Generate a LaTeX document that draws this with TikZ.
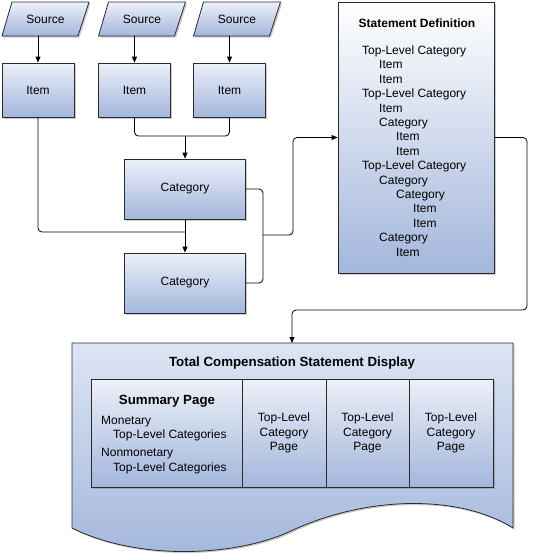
\documentclass[tikz,border=0pt]{standalone}
\usepackage{fontspec}
\setmainfont{Liberation Sans}
\usetikzlibrary{arrows.meta,shadows}
\definecolor{topc}{HTML}{ECF0F8}
\definecolor{botc}{HTML}{A3B6DC}
\definecolor{disptop}{HTML}{DCE5F3}
\definecolor{linec}{HTML}{2A2A2A}
\tikzset{
  base/.style={font=\fontsize{12}{14.4}\selectfont, text=black},
  shd/.style={drop shadow={shadow xshift=1.5pt,shadow yshift=-1.5pt,opacity=0.35,fill=black!60}},
  gbox/.style={base, draw=linec, line width=0.8pt, top color=topc, bottom color=botc, shd},
  itembox/.style={gbox, minimum width=72pt, minimum height=54pt},
  catbox/.style={gbox, minimum width=121pt, minimum height=60pt},
  cell/.style={gbox, minimum height=108pt},
  conn/.style={draw=black, line width=0.8pt, rounded corners=4pt},
  arr/.style={conn, -{Triangle[length=6pt,width=5pt]}},
  txt/.style={base, inner sep=0pt, anchor=base west},
  btitle/.style={base, font=\fontsize{13.3}{16}\selectfont\bfseries},
}
\begin{document}
\begin{tikzpicture}[x=1pt,y=-1pt]
\useasboundingbox (0,0) rectangle (536,558);

% Sources
\foreach \c/\n in {38/1,134.5/2,229.5/3}{
  \path[draw=linec, line width=0.8pt, top color=topc, bottom color=botc, shd]
    (\c-36,36) -- (\c+40,36) -- (\c+51,2) -- (\c-26,2) -- cycle;
  \node[base] (src\n) at (\c+7.5,19) {Source};
  \coordinate (srcb\n) at (\c,36);
}

% Items
\node[itembox] (item1) at (38,90) {Item};
\node[itembox] (item2) at (134.5,90) {Item};
\node[itembox] (item3) at (229.5,90) {Item};

% Categories
\node[catbox] (cat1) at (185,189) {Category};
\node[catbox] (cat2) at (185,283) {Category};

% Statement definition
\node[draw=linec, line width=0.8pt, top color=white, bottom color=botc, shd,
      minimum width=156pt, minimum height=271pt] (sd) at (416,137.5) {};
\node[base, font=\fontsize{12}{14.4}\selectfont\bfseries] (sdt) at (417,23) {Statement Definition};
\foreach \i/\l/\t in {1/0/Top-Level Category,2/1/Item,3/1/Item,4/0/Top-Level Category,
  5/1/Item,6/1/Category,7/2/Item,8/2/Item,9/0/Top-Level Category,10/1/Category,
  11/2/Category,12/3/Item,13/3/Item,14/1/Category,15/2/Item}{
  \node[txt] (sd\i) at ({362+17*\l},{54.5+14.4*(\i-1)}) {\t};
}

% Display document shape
\path[draw=linec, line width=0.8pt, top color=disptop, bottom color=botc, shd]
  (72,343) -- (513,343) -- (513,528)
  .. controls (460,495) and (370,495) .. (293,530)
  .. controls (240,556) and (140,562) .. (72,528) -- cycle;
\node[btitle] (disp) at (292,363) {Total Compensation Statement Display};
\coordinate (dtop) at (292,343);

% Table cells
\node[cell, minimum width=151pt] (sum) at (166.5,433) {};
\node[cell, minimum width=84pt] (pg1c) at (284,433) {};
\node[cell, minimum width=83pt] (pg2c) at (367.5,433) {};
\node[cell, minimum width=84pt] (pg3c) at (451,433) {};

\node[btitle] (sumt) at (167,401) {Summary Page};
\node[txt] (mon) at (101,424.5) {Monetary};
\node[txt] (mont) at (113,438.5) {Top-Level Categories};
\node[txt] (nmon) at (101,456.5) {Nonmonetary};
\node[txt] (nmont) at (113,471.5) {Top-Level Categories};

\node[base, align=center] (pg1) at (pg1c.center) {Top-Level\\Category\\Page};
\node[base, align=center] (pg2) at (pg2c.center) {Top-Level\\Category\\Page};
\node[base, align=center] (pg3) at (pg3c.center) {Top-Level\\Category\\Page};

% Connectors
\draw[arr] (srcb1) -- (item1.north);
\draw[arr] (srcb2) -- (item2.north);
\draw[arr] (srcb3) -- (item3.north);

\coordinate (m1) at (185,136);
\draw[conn] (item2.south) |- (m1) -| (item3.south);
\draw[arr] (m1) -- (cat1.north);

\coordinate (m2) at (185,232);
\draw[conn] (item1.south) |- (m2);
\draw[arr] (cat1.south) -- (cat2.north);

\coordinate (b) at (263,235);
\draw[conn] (cat1.east) -| (b) |- (cat2.east);
\coordinate (c1) at (293,235);
\draw[arr] (b) -- (c1) |- (sd.west);

\coordinate (d1) at (527,310);
\draw[arr] (sd.east) -| (d1) -| (dtop);
\end{tikzpicture}
\end{document}
